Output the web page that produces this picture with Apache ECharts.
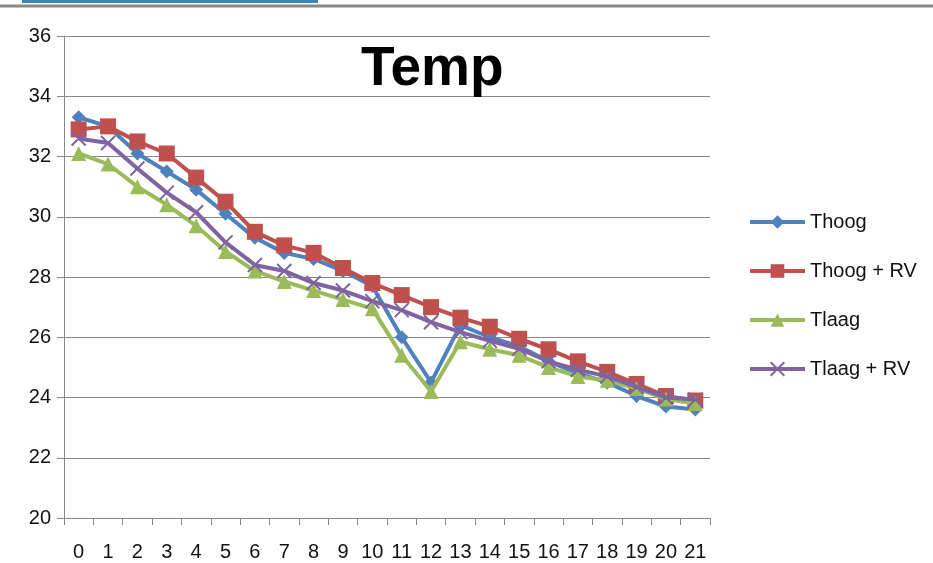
<!DOCTYPE html>
<html>
<head>
<meta charset="utf-8">
<script src="https://cdn.jsdelivr.net/npm/echarts@6/dist/echarts.min.js"></script>
<style>
html,body{margin:0;padding:0;background:#fff;}
#chart{width:933px;height:563px;}
</style>
</head>
<body>
<div id="chart"></div>
<script>
var categories = ['0','1','2','3','4','5','6','7','8','9','10','11','12','13','14','15','16','17','18','19','20','21'];
var thoog     = [33.3,33.0,32.1,31.5,30.9,30.1,29.3,28.8,28.6,28.2,27.7,26.0,24.5,26.4,26.0,25.7,25.2,24.8,24.5,24.05,23.7,23.6];
var thoogRV   = [32.9,33.0,32.5,32.1,31.3,30.5,29.5,29.05,28.8,28.3,27.8,27.4,27.0,26.65,26.35,25.95,25.6,25.2,24.85,24.45,24.05,23.9];
var tlaag     = [32.1,31.75,31.0,30.4,29.7,28.85,28.2,27.85,27.55,27.25,26.95,25.4,24.2,25.85,25.6,25.4,25.0,24.7,24.57,24.3,23.95,23.8];
var tlaagRV   = [32.6,32.45,31.6,30.8,30.15,29.15,28.4,28.2,27.8,27.55,27.2,26.9,26.5,26.17,25.88,25.62,25.2,24.92,24.7,24.35,24.0,23.93];
var seriesNames = ['Thoog','Thoog + RV','Tlaag','Tlaag + RV'];
var yTicks = {min:20, max:36, step:2};

var colors = ['#4F81BD','#C0504D','#9BBB59','#8064A2'];
var symbols = ['diamond','rect','triangle','path://M0,0 L2,2 M2,0 L0,2'];
var sizes = [14,16,15,14];
var datas = [thoog, thoogRV, tlaag, tlaagRV];

var chart = echarts.init(document.getElementById('chart'), null, {renderer:'canvas'});
var font = 'Liberation Sans';
var series = datas.map(function(d,i){
  var s = {
    name: seriesNames[i],
    type:'line',
    data:d,
    symbol: symbols[i],
    symbolSize: sizes[i],
    showAllSymbol:true,
    lineStyle:{width:4,color:colors[i]},
    itemStyle:{color:colors[i]},
    emphasis:{disabled:true},
    animation:false,
    z: 2+i
  };
  if(i===3){
    s.itemStyle = {color:'none', borderColor:colors[i], borderWidth:2};
  }
  return s;
});

chart.setOption({
  animation:false,
  color: colors,
  title:{
    text:'Temp', left:356, top:37,
    textStyle:{fontFamily:font, fontSize:55, fontWeight:'bold', color:'#000'}
  },
  legend:{
    orient:'vertical', left:748, top:212,
    itemWidth:55, itemHeight:17, itemGap:29, padding:0,
    lineStyle:{width:4},
    textStyle:{fontFamily:font, fontSize:20, color:'#111'},
    data: seriesNames
  },
  grid:{left:64, right:223, top:36, bottom:45, containLabel:false},
  xAxis:{
    type:'category', data:categories, boundaryGap:true,
    axisLine:{show:true, lineStyle:{color:'#888', width:1}},
    axisTick:{show:true, length:7, alignWithLabel:false, interval:0, lineStyle:{color:'#888'}},
    axisLabel:{interval:0, margin:24, fontFamily:font, fontSize:20, color:'#111'},
    splitLine:{show:false}
  },
  yAxis:{
    type:'value', min:yTicks.min, max:yTicks.max, interval:yTicks.step,
    axisLine:{show:true, lineStyle:{color:'#888', width:1}},
    axisTick:{show:true, length:7, lineStyle:{color:'#888'}},
    axisLabel:{margin:13, fontFamily:font, fontSize:20, color:'#111'},
    splitLine:{show:true, lineStyle:{color:'#888', width:1}}
  },
  graphic:[
    {type:'line', shape:{x1:0,y1:6,x2:933,y2:6}, style:{stroke:'#8a8a8a', lineWidth:3}, silent:true},
    {type:'line', shape:{x1:22,y1:1.5,x2:318,y2:1.5}, style:{stroke:'#3A87B8', lineWidth:3}, silent:true}
  ],
  series: series
});
</script>
</body>
</html>
